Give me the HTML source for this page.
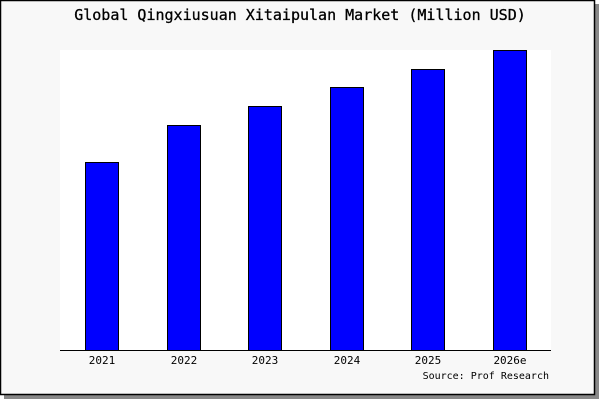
<!DOCTYPE html>
<html><head><style>
body{margin:0;width:600px;height:400px;background:#fff;overflow:hidden}
</style></head><body>
<svg width="600" height="400" xmlns="http://www.w3.org/2000/svg" font-family="'DejaVu Sans Mono','Liberation Mono',monospace">
<rect x="4" y="4" width="595" height="395" fill="#888"/>
<rect x="0.5" y="0.5" width="594" height="394" fill="#f8f8f8" stroke="#000" stroke-width="1.5"/>
<rect x="60" y="50" width="491" height="300" fill="#fff"/>
<text x="300" y="20" font-size="15" text-anchor="middle" fill="#000" stroke="#000" stroke-width="0.3">Global Qingxiusuan Xitaipulan Market (Million USD)</text>
<g fill="#0000ff" stroke="#000" stroke-width="1">
<rect x="85.5" y="162.5" width="33" height="188"/>
<rect x="167.5" y="125.5" width="33" height="225"/>
<rect x="248.5" y="106.5" width="33" height="244"/>
<rect x="330.5" y="87.5" width="33" height="263"/>
<rect x="411.5" y="69.5" width="33" height="281"/>
<rect x="493.5" y="50.5" width="33" height="300"/>
</g>
<line x1="60" y1="350.5" x2="551" y2="350.5" stroke="#000" stroke-width="1"/>
<g font-size="11" text-anchor="middle" fill="#000">
<text x="102" y="364">2021</text>
<text x="184" y="364">2022</text>
<text x="265" y="364">2023</text>
<text x="347" y="364">2024</text>
<text x="428" y="364">2025</text>
<text x="510" y="364">2026e</text>
</g>
<text x="549" y="379" font-size="10" text-anchor="end" fill="#000">Source: Prof Research</text>
</svg>
</body></html>
